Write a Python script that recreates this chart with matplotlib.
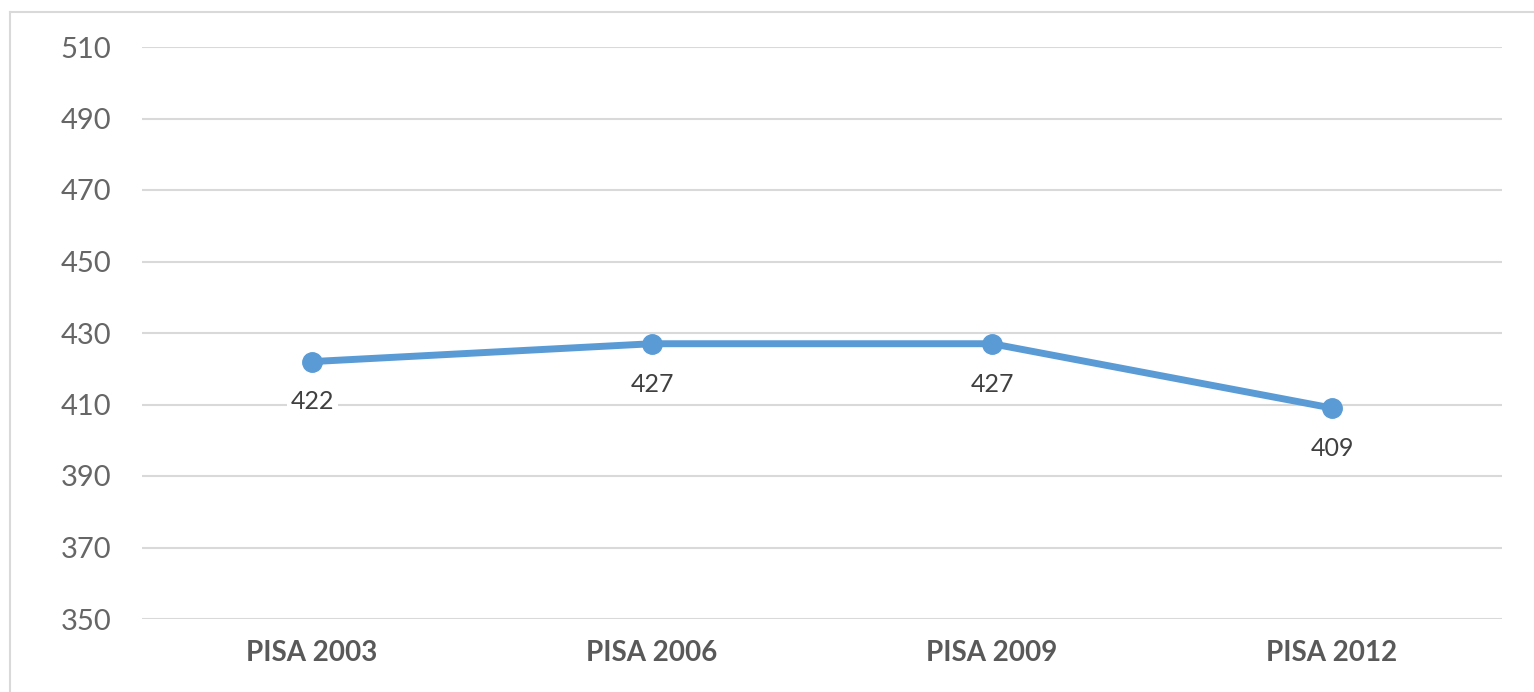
import matplotlib.pyplot as plt
from matplotlib.lines import Line2D

# PISA mean scores by cycle
cycles = ['PISA 2003', 'PISA 2006', 'PISA 2009', 'PISA 2012']
scores = [422, 427, 427, 409]
y_ticks = [350, 370, 390, 410, 430, 450, 470, 490, 510]

W, H = 1534, 692
fig = plt.figure(figsize=(W / 100, H / 100), dpi=100)
ax = fig.add_axes([142 / W, 1 - 619 / H, 1360 / W, 572 / H])

# frame around the chart area (only top and left edges are visible)
grey_frame = '#D9D9D9'
fig.add_artist(Line2D([10 / W, 1], [1 - 12 / H, 1 - 12 / H], color=grey_frame, lw=1.5))
fig.add_artist(Line2D([10 / W, 10 / W], [0, 1 - 12 / H], color=grey_frame, lw=1.5))

x = range(len(cycles))
ax.plot(x, scores, color='#5B9BD5', lw=5, marker='o', markersize=14,
        solid_capstyle='round', zorder=3)

for xi, s in zip(x, scores):
    ax.annotate(str(s), (xi, s), xytext=(0, -29), textcoords='offset points',
                ha='center', va='center', fontsize=18, color='#404040',
                family='Lato',
                bbox=dict(boxstyle='square,pad=0.15', fc='white', ec='none'),
                zorder=4)

ax.set_xlim(-0.5, len(cycles) - 0.5)
ax.set_ylim(350, 510)
ax.set_yticks(y_ticks)
ax.set_xticks(list(x))
ax.set_xticklabels(cycles, fontsize=20, fontweight='bold', color='#595959', family='Lato')
ax.set_yticklabels([str(v) for v in y_ticks], fontsize=21, color='#666666', family='Lato')
ax.tick_params(axis='both', length=0)
ax.tick_params(axis='y', pad=22)
ax.tick_params(axis='x', pad=15)

ax.grid(axis='y', color='#D9D9D9', lw=1.5)
ax.set_axisbelow(True)
for sp in ax.spines.values():
    sp.set_visible(False)

fig.savefig('out.png', dpi=100, facecolor='white')
